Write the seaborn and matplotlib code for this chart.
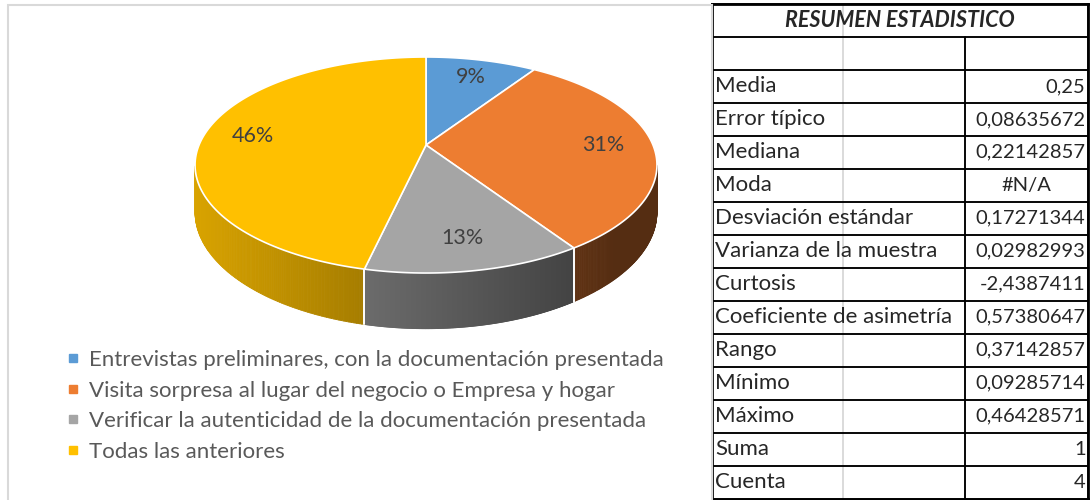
import numpy as np
import matplotlib
matplotlib.use("Agg")
import matplotlib.pyplot as plt
import matplotlib.transforms as mtransforms
import seaborn as sns
from matplotlib.collections import PolyCollection
from matplotlib.lines import Line2D
from matplotlib.patches import Rectangle
from matplotlib.path import Path

# data
categories = [
    "Entrevistas preliminares, con la documentación presentada",
    "Visita sorpresa al lugar del negocio o Empresa y hogar",
    "Verificar la autenticidad de la documentación presentada",
    "Todas las anteriores",
]
shares = [0.09285714, 0.31428571, 0.12857143, 0.46428571]
slice_colors = ["#5B9BD5", "#ED7D31", "#A5A5A5", "#FFC000"]

table_title = "RESUMEN ESTADISTICO"
stat_names = ["Media", "Error típico", "Mediana", "Moda", "Desviación estándar",
              "Varianza de la muestra", "Curtosis", "Coeficiente de asimetría",
              "Rango", "Mínimo", "Máximo", "Suma", "Cuenta"]
stat_values = ["0,25", "0,08635672", "0,22142857", "#N/A", "0,17271344",
               "0,02982993", "-2,4387411", "0,57380647", "0,37142857",
               "0,09285714", "0,46428571", "1", "4"]


class Tilt(mtransforms.Transform):
    """Simple perspective so the pie looks tilted back like Excel's 3D pie."""
    input_dims = output_dims = 2
    is_separable = False
    has_inverse = False

    def __init__(self, a):
        super().__init__()
        self.a = a

    def transform_non_affine(self, xy):
        xy = np.atleast_2d(np.asarray(xy, float))
        d = 1 + self.a * xy[:, 1]
        return np.column_stack([xy[:, 0] * np.sqrt(1 - self.a ** 2) / d,
                                (xy[:, 1] + self.a) / d])

    def transform_path_non_affine(self, path):
        pts = []
        for seg, code in path.iter_bezier():
            if seg.degree == 0:
                pts.append(seg.control_points[0])
            else:
                pts.extend(seg(np.linspace(0, 1, 30)[1:]))
        return Path(self.transform_non_affine(np.array(pts)))


sns.set_style("white")
plt.rcParams["font.family"] = ["Lato", "DejaVu Sans"]

W, H = 1090, 500
fig = plt.figure(figsize=(W / 100, H / 100), dpi=100)

# light grey chart-area border (its right side hides under the table)
fig.patches.append(Rectangle((8 / W, -0.01), (712 - 8) / W, 1 - 5 / H + 0.01,
                             transform=fig.transFigure, fill=False,
                             edgecolor="#D9D9D9", linewidth=1.5, zorder=0))

# ---- 3D-looking pie ----
ax = fig.add_axes([150 / W, 1 - 340 / H, 552 / W, 310 / H])
wedges, texts, autotexts = ax.pie(
    shares, colors=slice_colors, startangle=90, counterclock=False,
    autopct="%1.0f%%", pctdistance=0.78,
    wedgeprops=dict(edgecolor="white", linewidth=1.2, zorder=2),
    textprops=dict(color="#404040", fontsize=15.5),
)
ax.set_aspect("auto")
ax.set_xlim(-1.195, 1.195)
ax.set_ylim(-1.62, 1.25)
ax.axis("off")

tilt = Tilt(0.185)
for art in list(wedges) + list(autotexts):
    art.set_transform(tilt + ax.transData)

h = 0.42  # wall height
polys, fcols = [], []
for w, c in zip(wedges, slice_colors):
    base = np.array(matplotlib.colors.to_rgb(c))
    t = np.radians(np.linspace(w.theta1, w.theta2, 300))
    disk = np.column_stack([np.cos(t), np.sin(t)])
    scr = tilt.transform_non_affine(disk)
    dep = h / (1 + tilt.a * disk[:, 1])
    for i in range(len(t) - 1):
        if scr[i, 1] <= 0 and scr[i + 1, 1] <= 0:
            polys.append([scr[i], scr[i + 1],
                          (scr[i + 1, 0], scr[i + 1, 1] - dep[i + 1]),
                          (scr[i, 0], scr[i, 1] - dep[i])])
            xm = 0.5 * (scr[i, 0] + scr[i + 1, 0])
            f = np.clip(0.58 - 0.27 * xm, 0.36, 0.88)
            fcols.append(tuple(base * f))
    # white seams where slices meet on the side wall
    for k in (0, -1):
        if scr[k, 1] < -0.02:
            ax.plot([scr[k, 0]] * 2, [scr[k, 1], scr[k, 1] - dep[k]],
                    color="white", lw=1.2, zorder=1.5)
ax.add_collection(PolyCollection(polys, facecolors=fcols, edgecolors=fcols,
                                 linewidths=0.6, zorder=1))

# legend below the pie
handles = [Line2D([], [], marker="s", ls="", color=c, markersize=6) for c in slice_colors]
fig.legend(handles, categories, loc="upper left", bbox_to_anchor=(58 / W, 1 - 341 / H),
           frameon=False, fontsize=16, labelcolor="#595959", handlelength=0.55,
           handletextpad=0.45, labelspacing=0.48, borderaxespad=0)

# ---- statistics table ----
tax = fig.add_axes([712 / W, 0.003, 376 / W, 0.989])
tax.set_xticks([])
tax.set_yticks([])
for s in tax.spines.values():
    s.set_linewidth(2)
    s.set_color("black")
tax.axvline((843 - 712) / 376, color="#D4D4D4", lw=1.2, zorder=0)

rows = [["", ""]] + [[n, v] for n, v in zip(stat_names, stat_values)]
n_rows = len(rows) + 1
tbl = tax.table(cellText=rows, colWidths=[0.673, 0.327],
                bbox=[0, 0, 1, (n_rows - 1) / n_rows], cellLoc="left")
tbl.auto_set_font_size(False)
for (r, c), cell in tbl.get_celld().items():
    cell.set_facecolor("none")
    cell.set_linewidth(1.1)
    if c == 0:
        cell.PAD = 0.012
        cell.get_text().set_fontsize(16)
    else:
        cell.PAD = 0.02
        cell.get_text().set_fontsize(14.5)
        cell.get_text().set_ha("center" if rows[r][1] == "#N/A" else "right")

head = tax.table(cellText=[[table_title]], colWidths=[1.0],
                 bbox=[0, (n_rows - 1) / n_rows, 1, 1 / n_rows], cellLoc="center")
head.auto_set_font_size(False)
hcell = head.get_celld()[(0, 0)]
hcell.set_facecolor("none")
hcell.set_linewidth(1.1)
hcell.get_text().set_fontsize(15.5)
hcell.get_text().set_fontweight("bold")
hcell.get_text().set_fontstyle("italic")

fig.savefig("out.png", dpi=100)
